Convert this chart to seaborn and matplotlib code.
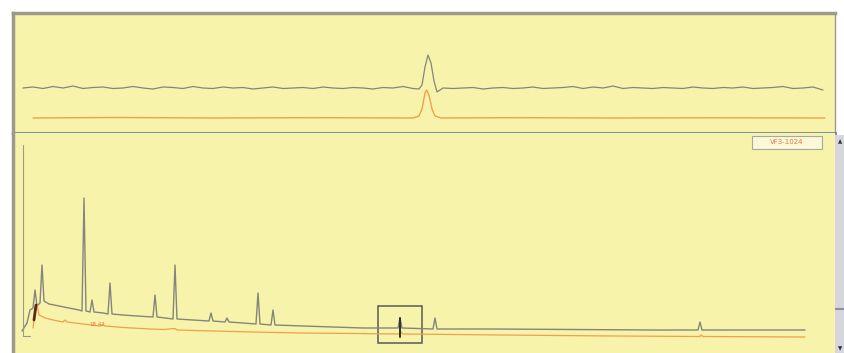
import matplotlib.pyplot as plt
import matplotlib.patches as mpatches
import seaborn as sns

# colours
yellow = "#f8f3aa"
grey_trace = "#85857c"
orange_trace = "#f0a04c"
border = "#9a9a8e"

# ---- upper panel (extracted ion / detector trace) ----
top_grey_t = [0.5, 1.0, 1.5, 2.0, 2.5, 3.0, 3.5, 4.0, 4.5, 5.0,
              5.5, 6.0, 6.5, 7.0, 7.5, 8.0, 8.5, 9.0, 9.5, 10.0,
              10.5, 11.0, 11.5, 12.0, 12.5, 13.0, 13.5, 14.0, 14.5, 15.0,
              15.5, 16.0, 16.5, 17.0, 17.5, 18.0, 18.5, 19.0, 19.5, 20.0,
              20.3, 20.45, 20.6, 20.75, 20.9, 21.05, 21.2, 21.35,
              21.5, 22.0, 22.5, 23.0, 23.5, 24.0, 24.5, 25.0, 25.5, 26.0,
              26.5, 27.0, 27.5, 28.0, 28.5, 29.0, 29.5, 30.0, 30.5, 31.0,
              31.5, 32.0, 32.5, 33.0, 33.5, 34.0, 34.5, 35.0, 35.5, 36.0,
              36.5, 37.0, 37.5, 38.0, 38.5, 39.0, 39.5, 40.0, 40.5]
top_grey_y = [45, 46, 44.5, 46.5, 45, 47, 44.5, 45.5, 46, 44.5,
              45, 46.5, 45, 44, 46, 45.5, 44.5, 46.5, 45, 44.5,
              46, 45, 45.5, 44, 45, 46, 44.5, 45, 45.5, 44.5,
              46, 45, 44.5, 45.5, 45, 44, 45.5, 45, 46.5, 44.5,
              44, 48, 66, 78, 70, 52, 41, 43,
              45, 44.5, 45, 45.5, 44, 45, 45.5, 44.5, 45, 46,
              44.5, 45, 45.5, 46.5, 44.5, 46, 45, 47, 44.5, 45.5,
              45, 44.5, 45.5, 45, 44.5, 46, 45, 44.5, 45.5, 45,
              46, 44.5, 45, 45.5, 46.5, 44.5, 45, 46, 43]

top_orange_t = [1.0, 5.0, 10.0, 15.0, 20.0, 20.3, 20.45, 20.6, 20.68, 20.8,
                20.95, 21.1, 21.4, 25.0, 30.0, 35.0, 40.6]
top_orange_y = [15, 15.5, 15, 15.3, 15, 17, 24, 40, 43, 38,
                24, 17, 15, 15.3, 15, 15.2, 15]

# ---- lower panel (chromatogram) ----
tic_t = [0.45, 0.7, 0.85, 1.0, 1.1, 1.2, 1.35, 1.45, 1.55, 1.8,
         2.3, 2.8, 3.3, 3.45, 3.55, 3.65, 3.85, 3.95, 4.05, 4.5,
         4.75, 4.85, 4.95, 5.5, 6.2, 7.0, 7.1, 7.2, 7.6, 8.0,
         8.1, 8.2, 9.0, 9.8, 9.9, 10.0, 10.6, 10.7, 10.8, 11.5,
         12.15, 12.25, 12.35, 12.9, 13.0, 13.1, 14.5, 16.0, 17.5, 19.25,
         19.35, 19.45, 21.0, 21.1, 21.2, 24.0, 28.0, 32.0, 34.25, 34.35,
         34.45, 37.0, 39.6]
tic_y = [22, 30, 43, 45, 63, 47, 50, 88, 52, 49,
         47, 45, 43, 42, 155, 42, 41, 53, 41, 40,
         39, 70, 39, 38, 37, 36, 58, 36, 35, 34,
         88, 34, 33, 32, 40, 32, 31, 35, 31, 30,
         29, 60, 29, 28, 43, 28, 27, 26, 25, 25,
         35, 25, 24, 35, 24, 24, 23.5, 23, 23, 31,
         23, 23, 23]

uv_t = [1.0, 1.1, 1.2, 1.3, 1.6, 2.0, 2.5, 2.6, 2.7, 3.5,
        4.35, 4.5, 4.6, 5.5, 6.85, 7.5, 8.1, 8.2, 10.0, 12.0,
        14.35, 17.0, 19.35, 19.4, 19.5, 24.35, 30.0, 34.35, 34.4, 34.5,
        39.6]
uv_y = [25, 40, 48, 38, 35, 33, 31, 33, 31, 29,
        27, 28.5, 27, 25.5, 24, 23.5, 24.5, 23, 22, 21,
        20, 19.5, 19, 21, 19, 18, 17, 16.5, 18, 16.5,
        16]

# dark highlighted segments (start of run, selected peak)
mark_t = [1.05, 1.15]
mark_y = [33, 48]
sel_t = [19.35, 19.35]
sel_y = [16, 35]

label_text = "VF3-1024"
peak_label = "18.42"

sns.set_style("white")
fig = plt.figure(figsize=(8.45, 3.53), dpi=100)
fig.patch.set_facecolor("white")

W, H = 845, 353
ax_top = fig.add_axes([13 / W, 220 / H, 822 / W, 120 / H])
ax_bot = fig.add_axes([13 / W, 0, 822 / W, 220 / H])
ax_scr = fig.add_axes([835 / W, 0, 10 / W, 218 / H])

for ax in (ax_top, ax_bot):
    ax.set_facecolor(yellow)
    ax.set_xlim(0, 41.1)
    ax.set_xticks([])
    ax.set_yticks([])
    for s in ax.spines.values():
        s.set_color(border)
        s.set_linewidth(2.5)

ax_top.set_ylim(0, 120)
ax_top.spines["right"].set_linewidth(1)
ax_top.spines["bottom"].set_color("#6f84a8")
ax_top.spines["bottom"].set_linewidth(2)
ax_bot.set_ylim(0, 220)
ax_bot.spines["top"].set_visible(False)
ax_bot.spines["bottom"].set_visible(False)
ax_bot.spines["right"].set_visible(False)

sns.lineplot(x=top_grey_t, y=top_grey_y, ax=ax_top, color=grey_trace,
             lw=0.9, estimator=None, sort=False)
sns.lineplot(x=top_orange_t, y=top_orange_y, ax=ax_top, color=orange_trace,
             lw=1.0, estimator=None, sort=False)

sns.lineplot(x=tic_t, y=tic_y, ax=ax_bot, color=grey_trace,
             lw=1.0, estimator=None, sort=False)
sns.lineplot(x=uv_t, y=uv_y, ax=ax_bot, color=orange_trace,
             lw=0.9, estimator=None, sort=False)
sns.lineplot(x=mark_t, y=mark_y, ax=ax_bot, color="#5a2818",
             lw=2.0, estimator=None, sort=False)
sns.lineplot(x=sel_t, y=sel_y, ax=ax_bot, color="#303028",
             lw=1.4, estimator=None, sort=False)

# inner y axis of the chromatogram
ax_bot.plot([0.5, 0.5, 0.85], [208, 17, 17], color="#9a9a90", lw=0.8)

# zoom box around the peak of interest
ax_bot.add_patch(mpatches.Rectangle((18.25, 10), 2.2, 37, fill=False,
                                    edgecolor="#5a5a50", lw=1.1))

# sample label box, top right
ax_bot.add_patch(mpatches.Rectangle((36.95, 204), 3.5, 13, facecolor="#fbf8d6",
                                    edgecolor="#a8a8a0", lw=0.8))
ax_bot.text(38.7, 210.5, label_text, color="#e8764a", fontsize=5,
            ha="center", va="center")
ax_bot.text(3.8, 28, peak_label, color="#e87040", fontsize=4,
            ha="left", va="center")

# scroll bar
ax_scr.set_facecolor("#d6d6de")
ax_scr.set_xticks([])
ax_scr.set_yticks([])
for s in ax_scr.spines.values():
    s.set_visible(False)
ax_scr.text(0.5, 0.97, "\u25b2", fontsize=4, color="#303040",
            ha="center", va="center", transform=ax_scr.transAxes)
ax_scr.text(0.5, 0.02, "\u25bc", fontsize=4, color="#303040",
            ha="center", va="center", transform=ax_scr.transAxes)
ax_scr.axhline(0.2, color="#9090a0", lw=1.5)

fig.savefig("out.png", dpi=100, facecolor="white")
plt.close(fig)
